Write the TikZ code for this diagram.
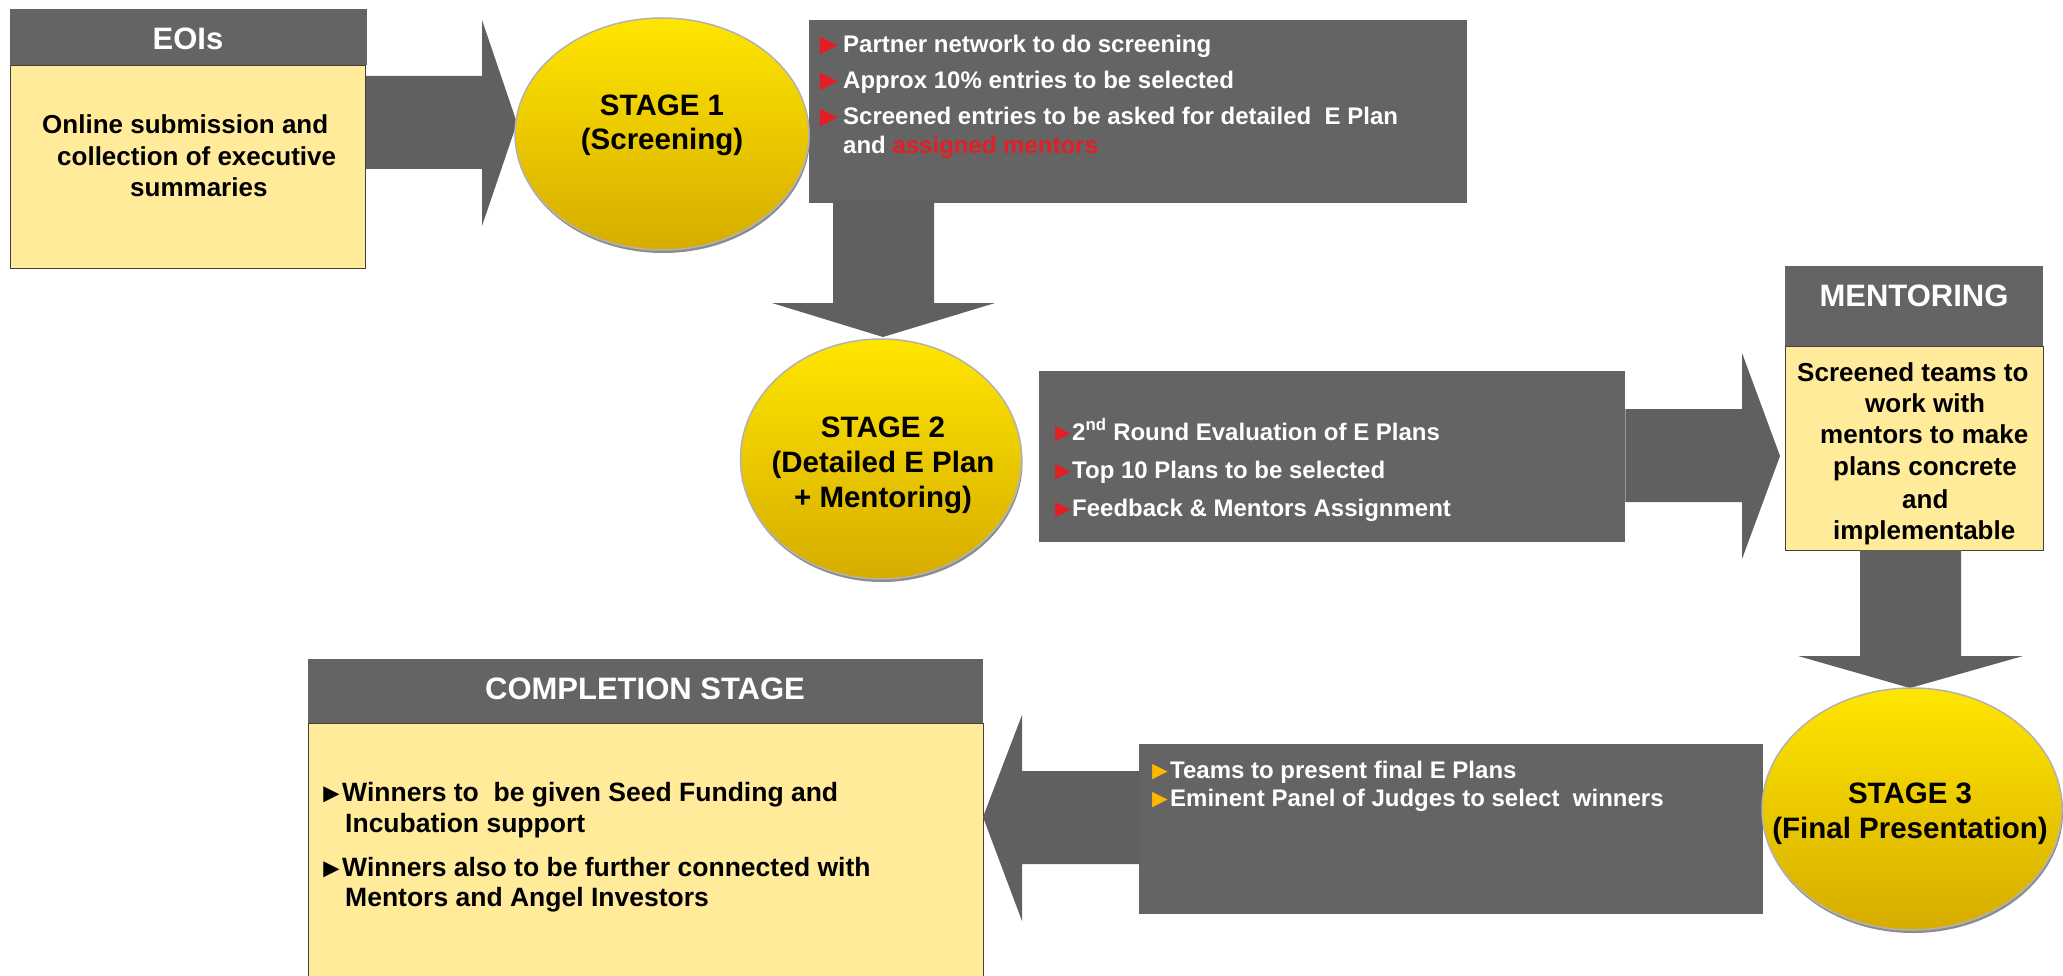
\documentclass[tikz,border=0pt]{standalone}
\usepackage{fontspec}
\setmainfont{Liberation Sans}
\usetikzlibrary{shapes.geometric}
\definecolor{boxgray}{RGB}{100,100,100}
\definecolor{arrowgray}{RGB}{96,96,96}
\definecolor{paleyellow}{RGB}{255,235,153}
\definecolor{ytop}{RGB}{255,230,0}
\definecolor{ybot}{RGB}{214,172,0}
\definecolor{bulred}{RGB}{227,30,36}
\definecolor{bulorange}{RGB}{255,184,0}
\newcommand{\bul}[3]{\makebox[#1][l]{\raisebox{-1.5pt}{\color{#2}\fontsize{#3}{#3}\selectfont ►}}}
\begin{document}
\begin{tikzpicture}[x=1pt,y=-1pt,
  graybox/.style={fill=boxgray, draw=none, anchor=north west, inner sep=0pt},
  yelbox/.style={fill=paleyellow, draw=black!75, line width=1.2pt, anchor=north west, inner sep=0pt},
  stage/.style={ellipse, inner sep=0pt, top color=ytop, bottom color=ybot, draw=black!30, line width=1.5pt},
  stageshadow/.style={ellipse, inner sep=0pt, fill=black!45, draw=none},
  blockarrow/.style={fill=arrowgray, draw=none},
  headtext/.style={font=\fontsize{31}{37}\selectfont\bfseries, text=white, inner sep=0pt, anchor=base},
  stagetext/.style={font=\fontsize{29.5}{35}\selectfont\bfseries, text=black, inner sep=0pt, anchor=base},
  yeltext/.style={font=\fontsize{26}{31}\selectfont\bfseries, text=black, inner sep=0pt, anchor=base west},
  listtext/.style={font=\fontsize{24}{29}\selectfont\bfseries, text=white, inner sep=0pt, anchor=base west},
  comptext/.style={font=\fontsize{26.5}{31}\selectfont\bfseries, text=black, inner sep=0pt, anchor=base west}]
\useasboundingbox (0,0) rectangle (2063,976);
\fill[white] (0,0) rectangle (2063,976);

% ---------- boxes ----------
\node[graybox, minimum width=357pt, minimum height=56pt] (eoihead) at (10,9) {};
\node[yelbox, minimum width=355pt, minimum height=203pt] (eoibody) at (10,65) {};
\node[graybox, minimum width=658pt, minimum height=183pt] (s1box) at (809,20) {};
\node[graybox, minimum width=586pt, minimum height=171pt] (s2box) at (1039,371) {};
\node[graybox, minimum width=258pt, minimum height=80pt] (menthead) at (1785,266) {};
\node[yelbox, minimum width=258pt, minimum height=204pt] (mentbody) at (1785,346) {};
\node[graybox, minimum width=624pt, minimum height=170pt] (s3box) at (1139,744) {};
\node[graybox, minimum width=675pt, minimum height=64pt] (comphead) at (308,659) {};
\node[yelbox, minimum width=675pt, minimum height=270pt] (compbody) at (308,723) {};

% ---------- block arrows ----------
\fill[blockarrow] (eoibody.east |- 0,76) -- (482,76) -- (482,20) -- (517,123)
  -- (482,226) -- (482,169) -- (eoibody.east |- 0,169) -- cycle;
\fill[blockarrow] (833,200) -- (934,200) -- (934,303) -- (995,303) -- (883,337)
  -- (772,303) -- (833,303) -- cycle;
\fill[blockarrow] (s2box.east |- 0,409) -- (1742,409) -- (1742,353) -- (1780,456)
  -- (1742,559) -- (1742,502) -- (s2box.east |- 0,502) -- cycle;
\fill[blockarrow] (1860,550) -- (1961,550) -- (1961,656) -- (2023,656) -- (1910,688)
  -- (1798,656) -- (1860,656) -- cycle;
\fill[blockarrow] (s3box.west |- 0,771) -- (1022,771) -- (1022,715) -- (983,817)
  -- (1022,921) -- (1022,864) -- (s3box.west |- 0,864) -- cycle;

% ---------- stage ellipses ----------
\node[stageshadow, minimum width=294pt, minimum height=232pt] (s1sh) at (663,137) {};
\node[stage, minimum width=294pt, minimum height=232pt] (s1) at (662,134) {};
\node[stageshadow, minimum width=281pt, minimum height=240pt] (s2sh) at (882,462) {};
\node[stage, minimum width=281pt, minimum height=240pt] (s2) at (881,459) {};
\node[stageshadow, minimum width=300pt, minimum height=242pt] (s3sh) at (1913,812) {};
\node[stage, minimum width=300pt, minimum height=242pt] (s3) at (1912,809) {};

% ---------- headers ----------
\node[headtext] (eoititle) at (188,50) {EOIs};
\node[headtext] (menttitle) at (1914,306) {MENTORING};
\node[headtext] (comptitle) at (645,699) {COMPLETION STAGE};

% ---------- EOI body ----------
\node[yeltext] (eoi1) at (42,134) {Online submission and};
\node[yeltext] (eoi2) at (57,166) {collection of executive};
\node[yeltext] (eoi3) at (130,197) {summaries};

% ---------- stage labels ----------
\node[stagetext] (s1a) at (662,116) {STAGE 1};
\node[stagetext] (s1b) at (662,150) {(Screening)};
\node[stagetext] (s2a) at (883,437) {STAGE 2};
\node[stagetext] (s2b) at (883,472) {(Detailed E Plan};
\node[stagetext] (s2c) at (883,507) {+ Mentoring)};
\node[stagetext] (s3a) at (1910,803) {STAGE 3};
\node[stagetext] (s3b) at (1910,838) {(Final Presentation)};

% ---------- stage 1 list ----------
\node[listtext] (l11) at (814,53) {\bul{29pt}{bulred}{30}Partner network to do screening};
\node[listtext] (l12) at (814,89) {\bul{29pt}{bulred}{30}Approx 10\% entries to be selected};
\node[listtext] (l13) at (814,125) {\bul{29pt}{bulred}{30}Screened entries to be asked for detailed~ E Plan};
\node[listtext] (l14) at (843,154) {and {\color{bulred}assigned mentors}};

% ---------- stage 2 list ----------
\node[listtext] (l21) at (1050,440) {\bul{22pt}{bulred}{26}2\textsuperscript{nd} Round Evaluation of E Plans};
\node[listtext] (l22) at (1050,478) {\bul{22pt}{bulred}{26}Top 10 Plans to be selected};
\node[listtext] (l23) at (1050,516) {\bul{22pt}{bulred}{26}Feedback \& Mentors Assignment};

% ---------- mentoring body ----------
\node[yeltext] (m1) at (1797,381) {Screened teams to};
\node[yeltext] (m2) at (1865,412) {work with};
\node[yeltext] (m3) at (1820,443) {mentors to make};
\node[yeltext] (m4) at (1833,475) {plans concrete};
\node[yeltext] (m5) at (1902,508) {and};
\node[yeltext] (m6) at (1833,539) {implementable};

% ---------- stage 3 list ----------
\node[listtext] (l31) at (1147,778) {\bul{23pt}{bulorange}{26}Teams to present final E Plans};
\node[listtext] (l32) at (1147,806) {\bul{23pt}{bulorange}{26}Eminent Panel of Judges to select~ winners};

% ---------- completion list ----------
\node[comptext] (c1) at (318,801) {\bul{24pt}{black}{27}Winners to~ be given Seed Funding and};
\node[comptext] (c2) at (345,832) {Incubation support};
\node[comptext] (c3) at (318,876) {\bul{24pt}{black}{27}Winners also to be further connected with};
\node[comptext] (c4) at (345,906) {Mentors and Angel Investors};
\end{tikzpicture}
\end{document}
